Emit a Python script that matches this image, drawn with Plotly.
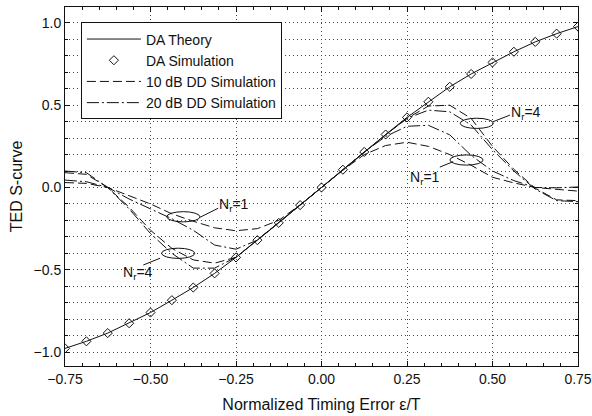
import plotly.graph_objects as go

# ---------------- data ----------------
x_pts = [-0.75, -0.6875, -0.625, -0.5625, -0.5, -0.4375, -0.375, -0.3125, -0.25,
         -0.1875, -0.125, -0.0625, 0.0, 0.0625, 0.125, 0.1875, 0.25, 0.3125,
         0.375, 0.4375, 0.5, 0.5625, 0.625, 0.6875, 0.75]

da_theory = [-0.978, -0.935, -0.885, -0.825, -0.76, -0.685, -0.608, -0.522, -0.425,
             -0.32, -0.215, -0.107, 0.0, 0.108, 0.216, 0.322, 0.426, 0.521,
             0.612, 0.69, 0.76, 0.825, 0.885, 0.935, 0.978]

da_sim = da_theory[:]

dd10_nr1 = [0.03, 0.025, 0.0, -0.05, -0.10, -0.16, -0.205, -0.245, -0.263,
            -0.25, -0.20, -0.105, 0.0, 0.105, 0.20, 0.255, 0.275, 0.25,
            0.20, 0.135, 0.062, 0.028, 0.0, -0.012, -0.022]
dd20_nr1 = [0.045, 0.035, 0.0, -0.07, -0.13, -0.19, -0.26, -0.35, -0.375,
            -0.32, -0.215, -0.107, 0.0, 0.108, 0.216, 0.31, 0.372, 0.378,
            0.32, 0.195, 0.10, 0.042, 0.0, -0.002, 0.003]
dd10_nr4 = [0.09, 0.08, 0.0, -0.12, -0.26, -0.37, -0.44, -0.46, -0.424,
            -0.32, -0.215, -0.107, 0.0, 0.108, 0.216, 0.32, 0.42, 0.495,
            0.50, 0.42, 0.25, 0.11, -0.005, -0.075, -0.08]
dd20_nr4 = [0.10, 0.09, 0.0, -0.13, -0.28, -0.40, -0.49, -0.49, -0.424,
            -0.32, -0.215, -0.107, 0.0, 0.108, 0.216, 0.32, 0.42, 0.47,
            0.46, 0.38, 0.23, 0.10, -0.01, -0.08, -0.086]

x_ticks = [-0.75, -0.5, -0.25, 0.0, 0.25, 0.5, 0.75]
y_ticks = [-1.0, -0.5, 0.0, 0.5, 1.0]

# annotation decorations: (label, ellipse centre x, y, leader line x0,y0,x1,y1, label x,y, anchor)
callouts = [
    ("N<sub>r</sub>=4", 0.454, 0.39, 0.502, 0.40, 0.551, 0.44, 0.548, 0.455, "left"),
    ("N<sub>r</sub>=1", 0.424, 0.167, 0.385, 0.157, 0.346, 0.124, 0.352, 0.06, "right"),
    ("N<sub>r</sub>=1", -0.404, -0.178, -0.355, -0.181, -0.302, -0.126, -0.305, -0.105, "left"),
    ("N<sub>r</sub>=4", -0.419, -0.40, -0.472, -0.43, -0.521, -0.471, -0.488, -0.52, "right"),
]
ell_w, ell_h = 0.097, 0.062

FONT = "Arial, Liberation Sans, sans-serif"
BLACK = "#111111"
GRID = "#444444"

fig = go.Figure()
fig.add_trace(go.Scatter(x=x_pts, y=da_theory, mode="lines", name="DA Theory",
                         line=dict(color=BLACK, width=1)))
fig.add_trace(go.Scatter(x=x_pts, y=da_sim, mode="markers", name="DA Simulation",
                         marker=dict(symbol="diamond-open", size=7,
                                     color=BLACK, line=dict(width=1, color=BLACK))))
dash10 = "9px,4px"
dashdot = "12px,3px,2px,3px"
fig.add_trace(go.Scatter(x=x_pts, y=dd10_nr1, mode="lines", name="10 dB DD Simulation",
                         line=dict(color=BLACK, width=1, dash=dash10)))
fig.add_trace(go.Scatter(x=x_pts, y=dd20_nr1, mode="lines", name="20 dB DD Simulation",
                         line=dict(color=BLACK, width=1, dash=dashdot)))
fig.add_trace(go.Scatter(x=x_pts, y=dd10_nr4, mode="lines", showlegend=False,
                         line=dict(color=BLACK, width=1, dash=dash10)))
fig.add_trace(go.Scatter(x=x_pts, y=dd20_nr4, mode="lines", showlegend=False,
                         line=dict(color=BLACK, width=1, dash=dashdot)))

shapes = []
annotations = []
for lab, cx, cy, lx0, ly0, lx1, ly1, tx, ty, anc in callouts:
    shapes.append(dict(type="circle", xref="x", yref="y",
                       x0=cx - ell_w / 2, x1=cx + ell_w / 2,
                       y0=cy - ell_h / 2, y1=cy + ell_h / 2,
                       line=dict(color=BLACK, width=1)))
    shapes.append(dict(type="line", xref="x", yref="y", x0=lx0, y0=ly0, x1=lx1, y1=ly1,
                       line=dict(color=BLACK, width=1)))
    annotations.append(dict(x=tx, y=ty, xref="x", yref="y", text=lab, showarrow=False,
                            xanchor=anc, yanchor="middle",
                            font=dict(family=FONT, size=14, color=BLACK)))

fig.update_layout(
    template="none",
    width=592, height=416,
    margin=dict(l=65, r=14, t=7, b=50, autoexpand=False),
    paper_bgcolor="white", plot_bgcolor="white",
    font=dict(family=FONT, size=14, color=BLACK),
    shapes=shapes, annotations=annotations,
    legend=dict(x=0.031, y=0.957, xanchor="left", yanchor="top",
                bgcolor="white", bordercolor=BLACK, borderwidth=1,
                font=dict(family=FONT, size=14, color=BLACK),
                tracegroupgap=0, itemwidth=54),
    xaxis=dict(range=[-0.75, 0.75], tickvals=x_ticks, tickformat=".2f",
               automargin=False,
               ticks="inside", ticklen=5, tickcolor=BLACK,
               showline=True, linecolor=BLACK, linewidth=1, mirror="ticks",
               showgrid=True, gridcolor=GRID, griddash="1px,3px", gridwidth=1,
               zeroline=False,
               minor=dict(dtick=0.05, tick0=-0.75, ticks="inside", ticklen=3,
                          tickcolor=BLACK, showgrid=False),
               title=dict(text="Normalized Timing Error ε/T", standoff=13,
                          font=dict(family=FONT, size=16, color=BLACK)),
               tickfont=dict(family=FONT, size=14, color=BLACK)),
    yaxis=dict(range=[-1.085, 1.097], tickvals=y_ticks, tickformat=".1f",
               automargin=False,
               ticks="inside", ticklen=5, tickcolor=BLACK,
               showline=True, linecolor=BLACK, linewidth=1, mirror="ticks",
               showgrid=True, gridcolor=GRID, griddash="1px,3px", gridwidth=1,
               zeroline=False,
               minor=dict(dtick=0.1, tick0=0, ticks="inside", ticklen=3,
                          tickcolor=BLACK, showgrid=True, gridcolor=GRID,
                          griddash="1px,3px", gridwidth=1),
               title=dict(text="TED S-curve", standoff=6,
                          font=dict(family=FONT, size=16, color=BLACK)),
               tickfont=dict(family=FONT, size=14, color=BLACK)),
)

fig.write_html("out.html", config={"displayModeBar": False},
               post_script="document.body.style.margin='0';")
